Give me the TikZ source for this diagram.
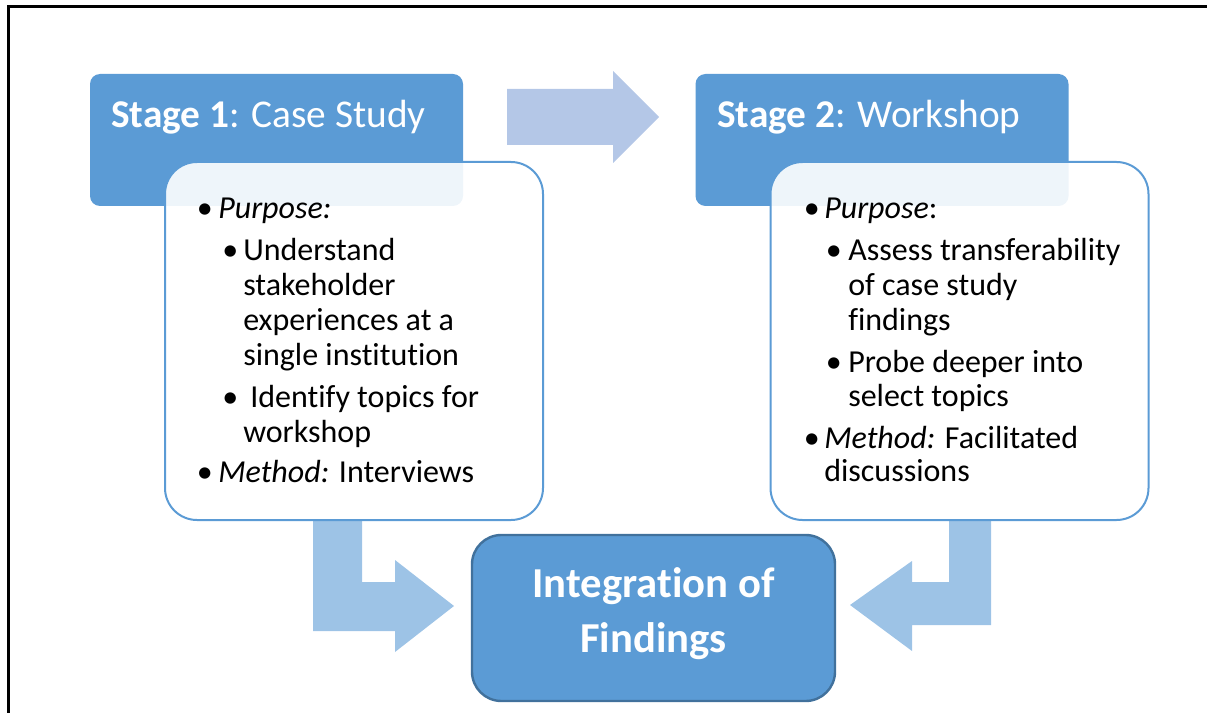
\documentclass[tikz,border=0pt]{standalone}
\usepackage{fontspec}
\setmainfont[Ligatures=NoCommon]{Carlito}
\definecolor{accent}{HTML}{5B9BD5}
\definecolor{accentdark}{HTML}{41719C}
\definecolor{flowlight}{HTML}{B4C7E7}
\definecolor{flowmid}{HTML}{9DC3E6}
\tikzset{
  headerbox/.style={fill=accent, draw=none, rounded corners=7.5pt, inner sep=0pt,
    minimum width=279.75pt, minimum height=99pt},
  contentbox/.style={fill=white, fill opacity=0.9, draw=accent, draw opacity=1,
    line width=1.5pt, rounded corners=24pt, inner sep=0pt,
    minimum width=283.5pt, minimum height=268.5pt},
  resultbox/.style={fill=accent, draw=accentdark, line width=1.8pt,
    rounded corners=22pt, inner sep=0pt,
    minimum width=272.25pt, minimum height=124.5pt},
  flowarrow/.style={draw=none},
  bodytxt/.style={anchor=base west, inner sep=0pt, font=\fontsize{24}{28}\selectfont},
  headtxt/.style={anchor=base west, inner sep=0pt, text=white,
    font=\fontsize{29.5}{34}\selectfont},
  resulttxt/.style={anchor=base, inner sep=0pt, text=white,
    font=\bfseries\fontsize{32}{38}\selectfont},
}
\begin{document}
\begin{tikzpicture}[x=0.75pt,y=-0.75pt]
\useasboundingbox (0,0) rectangle (1207,713);
\clip (0,0) rectangle (1207,713);

% outer frame (left and top edges)
\draw[line width=2.25pt] (8,740) -- (8,7) -- (1240,7);

% block arrows
\fill[flowlight, flowarrow] (507,89) -- (613,89) -- (613,71) -- (659,117)
  -- (613,163) -- (613,145) -- (507,145) -- cycle;
\fill[flowmid, flowarrow] (313,521) -- (362,521) -- (362,582) -- (395,582)
  -- (395,560) -- (454,606) -- (395,652) -- (395,631) -- (313,631) -- cycle;
\fill[flowmid, flowarrow] (991,521) -- (949,521) -- (949,582) -- (912,582)
  -- (912,561) -- (850,605) -- (912,651) -- (912,625) -- (991,625) -- cycle;

% stage headers
\node[headerbox] (s1head) at (276.5,140) {};
\node[headerbox] (s2head) at (882,140) {};
\node[headtxt] (s1title) at (111,128) {\textbf{Stage 1}: Case Study};
\node[headtxt] (s2title) at (717,128) {\textbf{Stage 2}: Workshop};

% detail boxes
\node[contentbox] (s1body) at (354,341) {};
\node[contentbox] (s2body) at (959.5,341) {};

% stage 1 details
\node[bodytxt] (s1b1) at (196.5,219) {•};
\node[bodytxt] (s1t1) at (218,219) {\textit{Purpose:}};
\node[bodytxt] (s1b2) at (222,260) {•};
\node[bodytxt] (s1t2) at (243,260) {Understand};
\node[bodytxt] (s1t3) at (243,295) {stakeholder};
\node[bodytxt] (s1t4) at (243,330) {experiences at a};
\node[bodytxt] (s1t5) at (243,365) {single institution};
\node[bodytxt] (s1b3) at (222,407) {•};
\node[bodytxt] (s1t6) at (250,407) {Identify topics for};
\node[bodytxt] (s1t7) at (243,442) {workshop};
\node[bodytxt] (s1b4) at (196.5,482) {•};
\node[bodytxt] (s1t8) at (218,482) {\textit{Method:} Interviews};

% stage 2 details
\node[bodytxt] (s2b1) at (803.5,219) {•};
\node[bodytxt] (s2t1) at (824,219) {\textit{Purpose}:};
\node[bodytxt] (s2b2) at (825.5,260) {•};
\node[bodytxt] (s2t2) at (848,260) {Assess transferability};
\node[bodytxt] (s2t3) at (848,295) {of case study};
\node[bodytxt] (s2t4) at (848,330) {findings};
\node[bodytxt] (s2b3) at (825.5,372) {•};
\node[bodytxt] (s2t5) at (848,372) {Probe deeper into};
\node[bodytxt] (s2t6) at (848,406) {select topics};
\node[bodytxt] (s2b4) at (803.5,448) {•};
\node[bodytxt] (s2t7) at (824,448) {\textit{Method:} Facilitated};
\node[bodytxt] (s2t8) at (824,481) {discussions};

% merged result
\node[resultbox] (merge) at (653.5,618) {};
\node[resulttxt] (merge1) at (653.5,597) {Integration of};
\node[resulttxt] (merge2) at (653.5,652) {Findings};
\end{tikzpicture}
\end{document}
